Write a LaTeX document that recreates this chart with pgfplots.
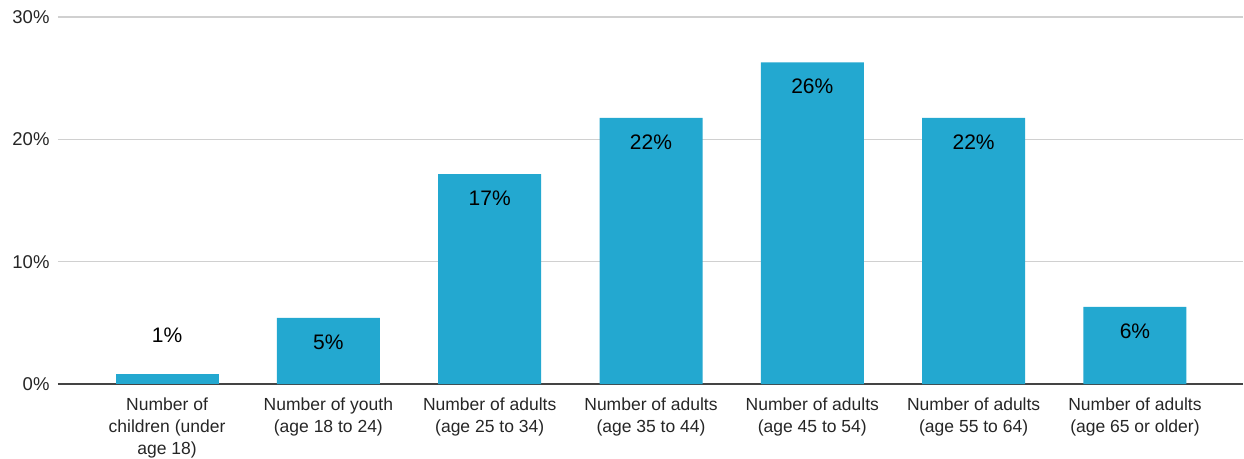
\documentclass[border=0pt]{standalone}
\usepackage{pgfplots}
\pgfplotsset{compat=1.18}
\usepackage{fontspec}
\setmainfont{Liberation Sans}
\definecolor{barblue}{RGB}{35,168,208}
\definecolor{gridgray}{RGB}{208,208,208}
\definecolor{axisgray}{RGB}{68,68,68}
\begin{document}
\begin{tikzpicture}
\path[use as bounding box] (0,0) rectangle (1244pt,458pt);
\begin{axis}[
  at={(58pt,74pt)}, anchor=south west,
  scale only axis, width=1185pt, height=367pt,
  xmin=-0.676, xmax=6.67, ymin=0, ymax=30,
  ybar, bar width=103pt,
  axis x line*=bottom, axis y line*=left,
  x axis line style={-, draw=axisgray, line width=1.5pt},
  y axis line style={draw=none},
  ytick={0,10,20,30}, yticklabels={0\%,10\%,20\%,30\%},
  ymajorgrids, major grid style={draw=gridgray, line width=1.2pt},
  tick style={draw=none},
  yticklabel style={font=\fontsize{18.5}{20}\selectfont, text=black!85, xshift=-5pt},
  xtick={0,1,2,3,4,5,6},
  xticklabels={{Number of\\children (under\\age 18)},{Number of youth\\(age 18 to 24)},{Number of adults\\(age 25 to 34)},{Number of adults\\(age 35 to 44)},{Number of adults\\(age 45 to 54)},{Number of adults\\(age 55 to 64)},{Number of adults\\(age 65 or older)}},
  xticklabel style={font=\fontsize{17.5}{22}\selectfont, align=center, text=black!85, yshift=-6pt},
  point meta=explicit symbolic,
  nodes near coords,
  nodes near coords style={font=\fontsize{21}{24}\selectfont, text=black},
  axis on top=false,
]
\addplot[fill=barblue, draw=none, bar shift=0pt,
  every node near coord/.append style={anchor=center, yshift=-24pt}]
  coordinates {(1,5.4) [5\%] (2,17.15) [17\%] (3,21.75) [22\%] (4,26.3) [26\%] (5,21.75) [22\%] (6,6.3) [6\%]};
\addplot[fill=barblue, draw=none, bar shift=0pt,
  every node near coord/.append style={anchor=center, yshift=38pt}]
  coordinates {(0,0.85) [1\%]};
\end{axis}
\end{tikzpicture}
\end{document}
